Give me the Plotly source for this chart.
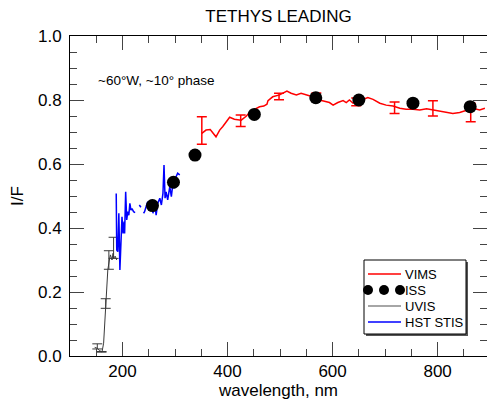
import plotly.graph_objects as go

# VIMS spectrum
vims_wl = [351, 359, 367, 372, 378, 385, 391, 404, 413, 426, 436, 443, 453, 461, 469, 475, 477,
           486, 499, 513, 521, 531, 540, 550, 562, 575, 585, 594, 601, 610, 620, 626, 632, 639,
           648, 658, 667, 677, 690, 702, 715, 728, 740, 753, 766, 779, 791, 804, 817, 829, 842,
           855, 867, 880, 890]
vims_if = [0.696, 0.706, 0.708, 0.698, 0.685, 0.706, 0.717, 0.746, 0.740, 0.737, 0.750, 0.764,
           0.771, 0.779, 0.781, 0.787, 0.798, 0.810, 0.816, 0.828, 0.821, 0.816, 0.821, 0.816,
           0.810, 0.800, 0.795, 0.792, 0.784, 0.792, 0.798, 0.792, 0.800, 0.790, 0.795, 0.802,
           0.808, 0.802, 0.790, 0.784, 0.781, 0.774, 0.771, 0.771, 0.769, 0.773, 0.769, 0.764,
           0.761, 0.758, 0.761, 0.769, 0.774, 0.769, 0.774]

# VIMS error bars
vims_err_wl = [351, 425, 498, 569, 645, 718, 791, 863]
vims_err_if = [0.705, 0.735, 0.811, 0.810, 0.794, 0.776, 0.774, 0.761]
vims_err = [0.043, 0.018, 0.010, 0.012, 0.012, 0.018, 0.024, 0.029]

# ISS points
iss_wl = [257, 297, 338, 451, 568, 650, 753, 862]
iss_if = [0.470, 0.543, 0.628, 0.755, 0.807, 0.800, 0.790, 0.779]

# UVIS spectrum
uvis_wl = [147, 152, 156, 161, 164, 167, 170, 172, 175, 177, 180, 182, 183, 186, 189]
uvis_if = [0.027, 0.024, 0.017, 0.013, 0.040, 0.123, 0.196, 0.269, 0.300, 0.316, 0.300,
           0.321, 0.305, 0.312, 0.300]
uvis_err_wl = [152, 160, 168, 174, 183]
uvis_err_if = [0.030, 0.013, 0.164, 0.300, 0.338]
uvis_err = [0.008, 0.001, 0.015, 0.029, 0.033]

# HST STIS spectrum
stis_wl = [188, 189, 191, 193, 195, 197, 199, 201, 203, 204, 206, 208, 210, 212, 214, 216, 218,
           221, 224, None, 232, 235, None, 240, 242, 245, 248, 251, 255, 258, 261, 264, 267,
           271, 274, 277, 279, 281, 283, 286, 290, 293, 296, 299, 302, 305, 309]
stis_if = [0.508, 0.331, 0.326, 0.446, 0.269, 0.394, 0.435, 0.383, 0.420, 0.383, 0.513, 0.425,
           0.451, 0.440, 0.477, 0.456, 0.461, 0.451, 0.448, None, 0.472, 0.465, None, 0.446,
           0.451, 0.467, 0.482, 0.456, 0.488, 0.446, 0.482, 0.440, 0.477, 0.493, 0.472, 0.508,
           0.597, 0.493, 0.513, 0.488, 0.529, 0.498, 0.540, 0.524, 0.560, 0.571, 0.566]

# legend entries
legend_names = ["VIMS", "ISS", "UVIS", "HST STIS"]
legend_colors = ["#ff0000", "black", "#888888", "#0000ff"]

FONT = "Liberation Sans, Arial, Helvetica, sans-serif"
L, R, T, B, W, H = 70, 0, 36, 46, 487, 402
PW, PH = W - L - R, H - T - B


def px(xp):
    return (xp - L) / PW


def py(yp):
    return (H - B - yp) / PH


fig = go.Figure()

fig.add_trace(go.Scatter(x=uvis_wl, y=uvis_if, mode="lines", name="UVIS",
                         line=dict(color="#3a3a3a", width=1)))
fig.add_trace(go.Scatter(x=uvis_err_wl, y=uvis_err_if, mode="markers",
                         marker=dict(size=1, color="rgba(0,0,0,0)"),
                         error_y=dict(type="data", array=uvis_err, color="#3a3a3a",
                                      thickness=1, width=5)))
fig.add_trace(go.Scatter(x=stis_wl, y=stis_if, mode="lines", name="HST STIS",
                         line=dict(color="#0000ff", width=1.5), connectgaps=False))
fig.add_trace(go.Scatter(x=vims_wl, y=vims_if, mode="lines", name="VIMS",
                         line=dict(color="#ff0000", width=1.5)))
fig.add_trace(go.Scatter(x=vims_err_wl, y=vims_err_if, mode="markers",
                         marker=dict(size=1, color="rgba(0,0,0,0)"),
                         error_y=dict(type="data", array=vims_err, color="#ff0000",
                                      thickness=1.5, width=5)))
fig.add_trace(go.Scatter(x=iss_wl, y=iss_if, mode="markers", name="ISS",
                         marker=dict(size=13, color="black")))

fig.add_annotation(x=150, y=0.86, xref="x", yref="y", text="~60°W, ~10° phase",
                   showarrow=False, xanchor="left", yanchor="middle",
                   font=dict(size=13.5, color="black", family=FONT))

# custom legend box with drop shadow
bx0, bx1, by0, by1 = 364, 466, 260, 334
fig.add_shape(type="rect", xref="paper", yref="paper",
              x0=px(bx0 + 2), x1=px(bx1 + 2), y0=py(by1 + 2), y1=py(by0 + 2),
              fillcolor="#555555", line=dict(width=0), layer="above")
fig.add_shape(type="rect", xref="paper", yref="paper",
              x0=px(bx0), x1=px(bx1), y0=py(by1), y1=py(by0),
              fillcolor="white", line=dict(color="black", width=1), layer="above")
row_y = [274, 290, 306, 322]
for name, col, ry in zip(legend_names, legend_colors, row_y):
    if name == "ISS":
        for cx in [368, 384, 400]:
            fig.add_shape(type="circle", xref="paper", yref="paper",
                          x0=px(cx - 5), x1=px(cx + 5), y0=py(ry + 5), y1=py(ry - 5),
                          fillcolor="black", line=dict(width=0), layer="above")
    else:
        fig.add_shape(type="line", xref="paper", yref="paper",
                      x0=px(368), x1=px(401), y0=py(ry), y1=py(ry),
                      line=dict(color=col, width=1.5), layer="above")
    fig.add_annotation(x=px(403), y=py(ry), xref="paper", yref="paper", text=name,
                       showarrow=False, xanchor="left", yanchor="middle",
                       font=dict(size=13, color="black", family=FONT))

axis_common = dict(showline=True, linecolor="black", linewidth=1, mirror="ticks",
                   ticks="inside", tickcolor="#444", tickwidth=1, ticklen=14,
                   showgrid=False, zeroline=False,
                   tickfont=dict(size=17, color="black", family=FONT))

fig.update_xaxes(range=[100, 894], tickvals=[200, 400, 600, 800],
                 minor=dict(dtick=50, tick0=0, ticks="inside", ticklen=7, tickcolor="#444",
                            showgrid=False),
                 title=dict(text="wavelength, nm", font=dict(size=17, color="black", family=FONT),
                            standoff=2),
                 **axis_common)
fig.update_yaxes(range=[0, 1], tickvals=[0, 0.2, 0.4, 0.6, 0.8, 1.0], tickformat=".1f",
                 minor=dict(dtick=0.05, tick0=0, ticks="inside", ticklen=7, tickcolor="#444",
                            showgrid=False),
                 ticklabelstandoff=4,
                 title=dict(text="I/F", font=dict(size=17, color="black", family=FONT),
                            standoff=10),
                 **axis_common)

fig.update_layout(
    width=W, height=H,
    margin=dict(l=L, r=R, t=T, b=B),
    paper_bgcolor="white", plot_bgcolor="white",
    font=dict(family=FONT, color="black"),
    title=dict(text="TETHYS LEADING", x=0.5, xref="paper", y=1 - 16.5 / H,
               yanchor="middle", font=dict(size=17, color="black", family=FONT)),
    showlegend=False,
)

fig.write_html("out.html")
